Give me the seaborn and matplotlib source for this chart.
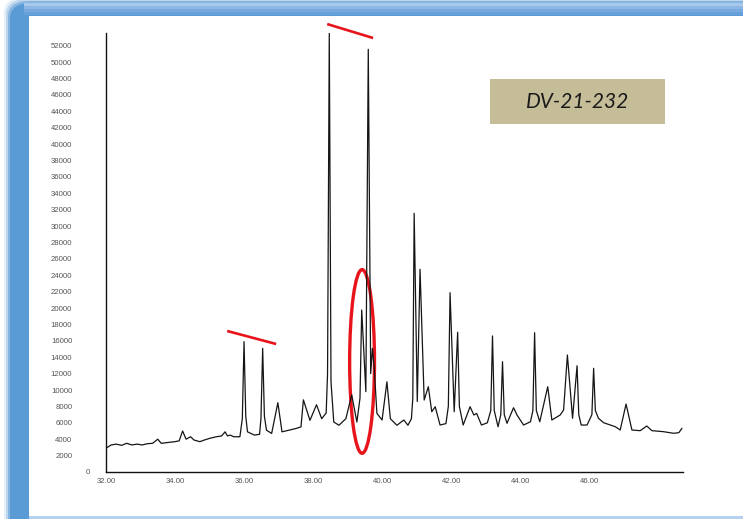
import matplotlib
matplotlib.use("Agg")
import matplotlib.pyplot as plt
from matplotlib.patches import FancyBboxPatch, Rectangle, Ellipse
from matplotlib.ticker import MultipleLocator, FixedLocator
import seaborn as sns
import pandas as pd

times = [32.0, 32.15, 32.3, 32.45, 32.6, 32.75, 32.9, 33.05, 33.2, 33.35,
         33.5, 33.6, 33.8, 34.0, 34.12, 34.22, 34.32, 34.45, 34.55, 34.72,
         34.85, 35.0, 35.2, 35.35, 35.45, 35.52, 35.6, 35.7, 35.88, 35.95,
         36.0, 36.05, 36.1, 36.3, 36.45, 36.49, 36.54, 36.59, 36.65, 36.8,
         36.98, 37.1, 37.3, 37.5, 37.65, 37.72, 37.91, 38.1, 38.25, 38.38,
         38.42, 38.47, 38.52, 38.6, 38.75, 38.95, 39.12, 39.27, 39.36, 39.41,
         39.53, 39.6, 39.67, 39.72, 39.77, 39.85, 40.0, 40.14, 40.24, 40.43,
         40.63, 40.75, 40.85, 40.89, 40.93, 41.02, 41.1, 41.22, 41.34, 41.44,
         41.54, 41.68, 41.85, 41.92, 41.97, 42.09, 42.19, 42.24, 42.35, 42.55,
         42.66, 42.74, 42.88, 43.05, 43.15, 43.2, 43.25, 43.36, 43.44, 43.49,
         43.54, 43.62, 43.81, 43.91, 44.1, 44.3, 44.37, 44.42, 44.47, 44.57,
         44.8, 44.92, 45.16, 45.26, 45.37, 45.52, 45.65, 45.7, 45.77, 45.94,
         46.08, 46.13, 46.18, 46.27, 46.42, 46.61, 46.76, 46.9, 47.07, 47.24,
         47.48, 47.67, 47.82, 48.15, 48.45, 48.6, 48.69]
response = [2900, 3300, 3400, 3250, 3500, 3300, 3400, 3300, 3450, 3500,
            4000, 3500, 3600, 3700, 3800, 5000, 4000, 4300, 3900, 3700,
            3900, 4100, 4300, 4400, 4900, 4400, 4500, 4300, 4300, 6500,
            15900, 6800, 4900, 4500, 4600, 6500, 15080, 6800, 5100, 4700,
            8450, 4900, 5100, 5300, 5500, 8800, 6300, 8200, 6500, 7200,
            12000, 53500, 11000, 6100, 5700, 6500, 9400, 6100, 9000, 19760,
            9800, 51550, 12000, 15080, 12840, 7150, 6340, 11000, 6500, 5700,
            6340, 5700, 6500, 9000, 31550, 8600, 24720, 8780, 10400, 7350,
            7960, 5730, 5900, 8000, 21870, 7350, 17040, 8000, 5730, 7960,
            6950, 7150, 5730, 6000, 7500, 16590, 7500, 5520, 7000, 13450,
            7000, 5940, 7840, 6950, 5730, 6130, 7500, 16990, 7500, 6130,
            10400, 6340, 6950, 7560, 14270, 6550, 12960, 7000, 5730, 5730,
            7000, 12650, 7500, 6550, 6010, 5730, 5520, 5120, 8290, 5120,
            5040, 5610, 5040, 4920, 4720, 4800, 5330]

x_labels = ["32.00", "34.00", "36.00", "38.00", "40.00", "42.00", "44.00", "46.00"]
x_label_pos = [32, 34, 36, 38, 40, 42, 44, 46]
y_tick_pos = list(range(0, 52001, 2000))
sample_name = "DV-21-232"

# red annotation marks
pair_a_x = [35.51, 36.93]
pair_a_y = [17200, 15610]
pair_b_x = [38.41, 39.74]
pair_b_y = [54630, 52930]
circled_peak = (39.42, 13480)

sns.set_style("white")
plt.rcParams["font.family"] = ["Liberation Sans", "DejaVu Sans"]

W, H = 743, 519
fig = plt.figure(figsize=(W / 100, H / 100), dpi=100)
fig.patch.set_facecolor("white")


def px(x0, y0, x1, y1):
    # pixel box (top-left origin) -> figure fraction
    return x0 / W, 1 - y1 / H, (x1 - x0) / W, (y1 - y0) / H


# blue window frame with a soft outer glow
for grow, alpha in [(6, 0.15), (4, 0.3), (2, 0.55), (0, 1.0)]:
    l, b, w, h = px(10 - grow, 3 - grow, 780, 540)
    fig.patches.append(FancyBboxPatch((l, b), w, h, boxstyle="round,pad=0,rounding_size=0.03",
                                      transform=fig.transFigure, facecolor="#5B9BD5",
                                      edgecolor="none", alpha=alpha, zorder=0))
for i, c in enumerate(["#A9C9EC", "#8DB7E4", "#76A9DE", "#66A0DA"]):
    l, b, w, h = px(24, 3 + i * 3, 760, 6 + i * 3)
    fig.patches.append(Rectangle((l, b), w, h, transform=fig.transFigure,
                                 facecolor=c, edgecolor="none", zorder=0.5))
l, b, w, h = px(29, 16, 760, 516)
fig.patches.append(Rectangle((l, b), w, h, transform=fig.transFigure,
                             facecolor="white", edgecolor="none", zorder=1))
l, b, w, h = px(29, 516, 760, 519)
fig.patches.append(Rectangle((l, b), w, h, transform=fig.transFigure,
                             facecolor="#B4D2F0", edgecolor="none", zorder=1))

ax = fig.add_axes([106 / W, 47 / H, 577 / W, 439 / H])
ax.set_facecolor("none")
ax.set_zorder(2)

df = pd.DataFrame({"time": times, "response": response})
sns.lineplot(data=df, x="time", y="response", estimator=None, sort=False,
             color="#151515", linewidth=0.9, ax=ax)

ax.set_xlim(32, 48.72)
ax.set_ylim(0, 53540)
ax.set_xlabel("")
ax.set_ylabel("")
sns.despine(ax=ax)
for s in ["left", "bottom"]:
    ax.spines[s].set_color("#111111")
    ax.spines[s].set_linewidth(1.0)

ax.xaxis.set_major_locator(FixedLocator(x_label_pos))
ax.set_xticklabels(x_labels)
ax.xaxis.set_minor_locator(MultipleLocator(0.5))
ax.yaxis.set_major_locator(FixedLocator(y_tick_pos))
ax.set_yticklabels([""] + [str(v) for v in y_tick_pos[1:]])
ax.yaxis.set_minor_locator(MultipleLocator(500))

ax.tick_params(axis="x", which="both", direction="out", length=2.5, width=0.8,
               color="#111111", labelsize=5.6, labelcolor="#555555", pad=1.5)
ax.tick_params(axis="y", which="both", direction="inout", length=2.5, width=0.7,
               color="#111111", labelsize=5.6, labelcolor="#555555", pad=23)
ax.text(-0.032, 0, "0", transform=ax.transAxes, ha="center", va="center",
        fontsize=5.6, color="#555555")

# red annotations
ax.plot(pair_a_x, pair_a_y, color="#E8141C", lw=1.9, solid_capstyle="butt", clip_on=False)
ax.plot(pair_b_x, pair_b_y, color="#E8141C", lw=1.9, solid_capstyle="butt", clip_on=False)
ax.add_patch(Ellipse(circled_peak, width=0.72, height=22400, fill=False,
                     edgecolor="#E8141C", linewidth=2.4, clip_on=False))

# sample label box
l, b, w, h = px(490, 79, 665, 124)
fig.patches.append(Rectangle((l, b), w, h, transform=fig.transFigure,
                             facecolor="#C4BD97", edgecolor="none", zorder=3))
fig.text(577.5 / W, 1 - 102 / H, sample_name, ha="center", va="center", fontsize=15,
         style="italic", family=["Lato", "DejaVu Sans"], color="#1A1A1A", zorder=4)

fig.savefig("out.png", dpi=100)
